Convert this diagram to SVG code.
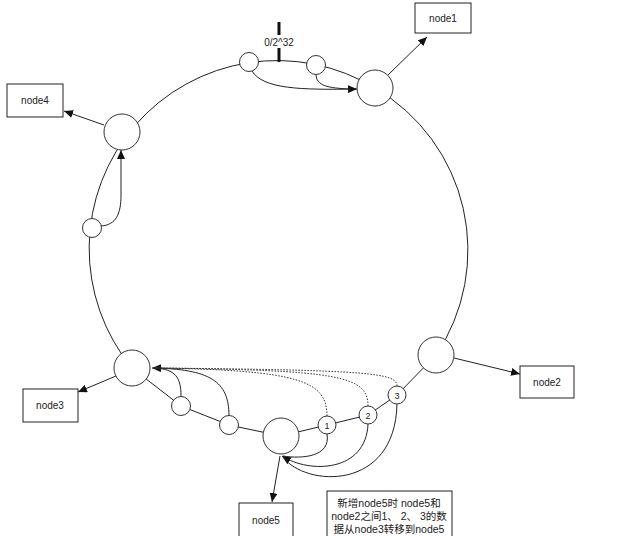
<svg xmlns="http://www.w3.org/2000/svg" width="632" height="536" viewBox="0 0 632 536">
<defs>
<marker id="arr" markerUnits="userSpaceOnUse" markerWidth="9" markerHeight="8" refX="9" refY="4" orient="auto">
<path d="M0,0 L9,4 L0,8 Z" fill="#111"/>
</marker>
<style>
.pt{fill:#fff;stroke:#333;stroke-width:1}
.box{fill:#fff;stroke:#222;stroke-width:1}
.lbl{font-family:"Liberation Sans",Arial,sans-serif;font-size:10px;fill:#222;text-anchor:middle}
.num{font-family:"Liberation Sans",Arial,sans-serif;font-size:9px;fill:#222;text-anchor:middle}
.ln{fill:none;stroke:#222;stroke-width:1}
.dot{fill:none;stroke:#333;stroke-width:1;stroke-dasharray:1.5,1.5}
.note{font-family:"Liberation Sans","Noto Sans CJK SC",sans-serif;font-size:10.5px;fill:#222;text-anchor:middle}
</style>
</defs>
<rect width="632" height="536" fill="#fff"/>

<g id="ring">
<path class="ln" d="M436,355 L397,395 L368,415 L327,425 L281,436 L229,425 L181,406 L132,368 A188,188 0 0 1 375,88 A188,188 0 0 1 436,355"/>
<line x1="279" y1="22" x2="279" y2="35" stroke="#111" stroke-width="3"/>
<line x1="279" y1="48" x2="279" y2="62" stroke="#111" stroke-width="3"/>
<text class="lbl" x="279" y="46">0/2^32</text>
</g>

<g id="connectors">
<!-- node to box arrows -->
<line class="ln" x1="388" y1="75" x2="427" y2="37" marker-end="url(#arr)"/>
<line class="ln" x1="104" y1="125" x2="64" y2="111" marker-end="url(#arr)"/>
<line class="ln" x1="116" y1="376" x2="78" y2="392" marker-end="url(#arr)"/>
<line class="ln" x1="454" y1="358" x2="520" y2="374" marker-end="url(#arr)"/>
<line class="ln" x1="280" y1="456" x2="272" y2="502" marker-end="url(#arr)"/>
<!-- top migration to node1 -->
<path class="ln" d="M252,71 C263,89 300,90 357,89" marker-end="url(#arr)"/>
<path class="ln" d="M316,74 C316,86 328,88 350,89"/>
<!-- left migration to node4 -->
<path class="ln" d="M101,226 C116,225 121,214 121,195 L121,150" marker-end="url(#arr)"/>
<!-- to node3 -->
<path class="ln" d="M181,396 C181,378 176,369 154,368"/>
<path class="ln" d="M229,416 C229,381 210,369 152,368" marker-end="url(#arr)"/>
<path class="dot" d="M327,416 C327,381 300,370 154,368"/>
<path class="dot" d="M368,406 C368,376 340,370 154,368"/>
<path class="dot" d="M397,386 C397,373 370,370 154,368"/>
<!-- to node5 -->
<path class="ln" d="M327,434 C331,457 302,459 283,456"/>
<path class="ln" d="M368,424 C366,472 310,474 282,456" marker-end="url(#arr)"/>
<path class="ln" d="M397,404 C395,492 305,487 283,457"/>
</g>

<g id="node1"><circle class="pt" cx="375" cy="88" r="18"/><rect class="box" x="415" y="3" width="56" height="30"/><text class="lbl" x="443" y="22">node1</text></g>
<g id="node2"><circle class="pt" cx="436" cy="355" r="18"/><rect class="box" x="520" y="366" width="54" height="32"/><text class="lbl" x="547" y="386">node2</text></g>
<g id="node3"><circle class="pt" cx="132" cy="368" r="18"/><rect class="box" x="23" y="389" width="55" height="33"/><text class="lbl" x="50" y="409">node3</text></g>
<g id="node4"><circle class="pt" cx="122" cy="132" r="18"/><rect class="box" x="7" y="84" width="56" height="33"/><text class="lbl" x="35" y="104">node4</text></g>
<g id="node5"><circle class="pt" cx="281" cy="436" r="18"/><rect class="box" x="239" y="503" width="54" height="40"/><text class="lbl" x="266" y="524">node5</text></g>

<g id="key-top1"><circle class="pt" cx="249" cy="62" r="9.5"/></g>
<g id="key-top2"><circle class="pt" cx="316" cy="65" r="9.5"/></g>
<g id="key-left"><circle class="pt" cx="92" cy="228" r="9.5"/></g>
<g id="key-b1"><circle class="pt" cx="181" cy="406" r="9.5"/></g>
<g id="key-b2"><circle class="pt" cx="229" cy="425" r="9.5"/></g>
<g id="key-1"><circle class="pt" cx="327" cy="425" r="9"/><text class="num" x="327" y="428.5">1</text></g>
<g id="key-2"><circle class="pt" cx="368" cy="415" r="9"/><text class="num" x="368" y="418.5">2</text></g>
<g id="key-3"><circle class="pt" cx="397" cy="395" r="9"/><text class="num" x="397" y="398.5">3</text></g>

<g id="note">
<rect class="box" x="327" y="491" width="125" height="52"/>
<text class="note" x="389" y="507">新增node5时 node5和</text>
<text class="note" x="389" y="520">node2之间1、 2、 3的数</text>
<text class="note" x="389" y="533">据从node3转移到node5</text>
</g>
</svg>
